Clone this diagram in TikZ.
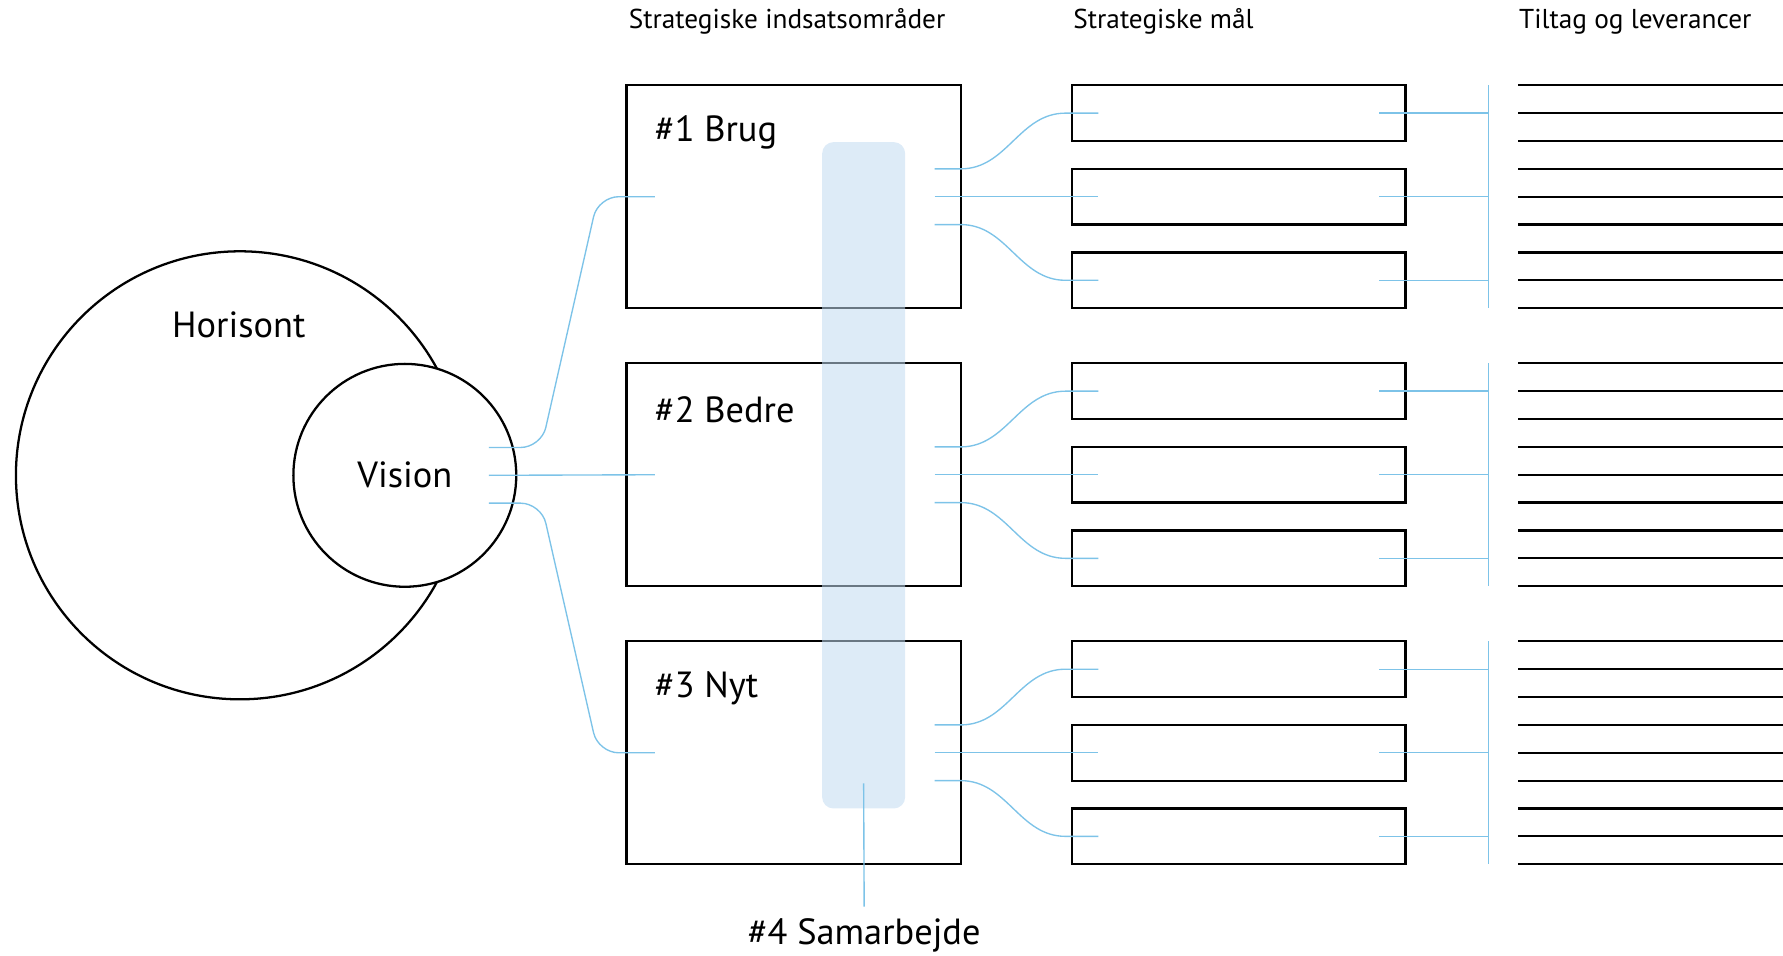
\documentclass[tikz,border=0pt]{standalone}
\usepackage{fontspec}
\setmainfont{PT Sans}
\usetikzlibrary{positioning}
\definecolor{linkblue}{RGB}{125,195,232}
\definecolor{bandblue}{RGB}{193,218,240}

\begin{document}
\begin{tikzpicture}
[x=0.5pt, y=-0.5pt, line width=1pt,
area/.style={rectangle, draw, minimum width=147pt, minimum height=98pt},
goal/.style={rectangle, draw, minimum width=146.5pt, minimum height=24.5pt},
band/.style={rectangle, draw=none, fill=bandblue, fill opacity=0.55,
    rounded corners=5pt, minimum width=36.5pt, minimum height=293pt},
link/.style={draw=linkblue, line width=0.6pt},
head/.style={anchor=west, inner sep=0pt, font=\fontsize{12}{14}\selectfont},
big/.style={inner sep=0pt, font=\fontsize{16}{19}\selectfont}]

\useasboundingbox (0,0) rectangle (1568,840);

% column heads
\node[head] (head1) at (552,19) {Strategiske indsatsområder};
\node[head] (head2) at (943,19) {Strategiske mål};
\node[head] (head3) at (1335,19) {Tiltag og leverancer};

% horizon and vision
\node[circle, draw, minimum size=197pt] (horisont) at (211,418) {};
\node[big] (horisonttxt) at (210,286) {Horisont};
\node[circle, draw, fill=white, minimum size=98pt, big] (vision) at (356,418) {Vision};

\coordinate (v1) at (430,393.5);
\coordinate (v2) at (430,418);
\coordinate (v3) at (430,442.5);

% strategic areas
\foreach \i/\y/\t in {1/173/{\#1 Brug}, 2/417.5/{\#2 Bedre}, 3/662/{\#3 Nyt}} {
    \node[area] (area\i) at (698,\y) {};
    \node[big, anchor=west] (label\i) at (575,\y-57) {\t};
}

\draw[link, rounded corners=9pt] (v1) -- (476,393.5) -- (526,173) -- ([xshift=13pt]area1.west);
\draw[link] (v2) -- ([xshift=13pt]area2.west);
\draw[link, rounded corners=9pt] (v3) -- (476,442.5) -- (526,662) -- ([xshift=13pt]area3.west);

% goals, bars and deliveries
\foreach \i in {1, 2, 3} {
    \pgfmathsetmacro\gy{173+244.5*(\i-1)}
    \coordinate (bt\i) at (1309,\gy-98);
    \coordinate (bb\i) at (1309,\gy+98);
    \draw[link] (bt\i) -- (bb\i);
    \foreach \j/\s/\d in {1/-24.5/-73.5, 2/0/0, 3/24.5/73.5} {
        \node[goal] (goal\i\j) at (1089.5,\gy+\d) {};
        \coordinate (ao\i\j) at (822,\gy+\s);
        \coordinate (gi\i\j) at ([xshift=12pt]goal\i\j.west);
        \coordinate (go\i\j) at ([xshift=-12pt]goal\i\j.east);
        \draw[link] (ao\i\j) -- ++(23,0) to[out=0, in=180] ++(92,\d-\s) -- (gi\i\j);
        \draw[link] (go\i\j) -- (bt\i |- go\i\j);
    }
    \foreach \k in {0, ..., 8} {
        \draw (1335,\gy-98+24.5*\k) -- (1568,\gy-98+24.5*\k);
    }
}

% cooperation band
\node[band] (band) at (759.5,418) {};
\node[big] (samarbejde) at (760,823) {\#4 Samarbejde};
\draw[link, shorten >=5pt] ([yshift=11.5pt]band.south) -- (samarbejde.north);

\end{tikzpicture}
\end{document}
